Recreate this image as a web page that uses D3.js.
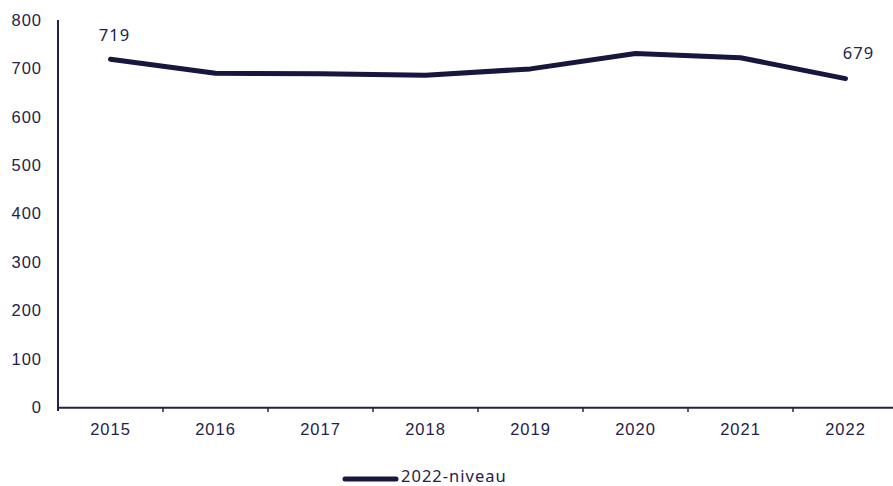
<!DOCTYPE html>
<html><head><meta charset="utf-8">
<script src="https://cdn.jsdelivr.net/npm/d3@7"></script>
<style>body{margin:0;background:#fff;} svg{display:block;font-family:"Noto Sans", sans-serif;}</style>
</head><body>
<svg id="c" width="893" height="486"></svg>
<script>
const years = ["2015","2016","2017","2018","2019","2020","2021","2022"];
const values = [719, 690, 689, 686, 699, 731, 722, 679];
const yTicks = [0,100,200,300,400,500,600,700,800];
const seriesName = "2022-niveau";
const labeled = {"2015": 719, "2022": 679};

const ink = "#23224a", lineCol = "#16163f";
const fs = "16.5px", ls = "1px";
const svg = d3.select("#c");
const x = d3.scaleBand().domain(years).range([58, 898]);
const y = d3.scaleLinear().domain([0, 800]).range([407.3, 20]);

// y axis
const ya = svg.append("g").attr("transform","translate(58,0)")
  .call(d3.axisLeft(y).tickValues(yTicks).tickSize(0).tickPadding(16));
ya.select(".domain").attr("stroke", ink).attr("stroke-width", 2).attr("d","M0,20V411");
ya.selectAll("text").attr("fill", ink).style("font-size",fs).style("letter-spacing",ls);

// x axis
const xa = svg.append("g").attr("transform","translate(0,407.3)")
  .call(d3.axisBottom(x).tickSize(0).tickPadding(16));
xa.select(".domain").attr("stroke", ink).attr("stroke-width", 2);
xa.selectAll("text").attr("fill", ink).style("font-size",fs).style("letter-spacing",ls);
// boundary ticks
svg.append("g").selectAll("line").data(years.slice(1))
  .join("line").attr("x1", d => x(d)).attr("x2", d => x(d))
  .attr("y1", 407).attr("y2", 412).attr("stroke", ink).attr("stroke-width", 1.5);

const line = d3.line().x((d,i) => x(years[i]) + x.bandwidth()/2).y(d => y(d));
svg.append("path").datum(values).attr("d", line).attr("fill","none")
  .attr("stroke", lineCol).attr("stroke-width", 5).attr("stroke-linecap","round").attr("stroke-linejoin","round");

// data labels
svg.append("text").attr("x", x("2015") + x.bandwidth()/2 + 4).attr("y", y(labeled["2015"]) - 18)
  .attr("text-anchor","middle").attr("fill", ink).style("font-size",fs).style("letter-spacing",ls).text(labeled["2015"]);
svg.append("text").attr("x", x("2022") + x.bandwidth()/2 + 13).attr("y", y(labeled["2022"]) - 20)
  .attr("text-anchor","middle").attr("fill", ink).style("font-size",fs).style("letter-spacing",ls).text(labeled["2022"]);

// legend
svg.append("line").attr("x1", 345).attr("x2", 396).attr("y1", 479).attr("y2", 479)
  .attr("stroke", lineCol).attr("stroke-width", 5).attr("stroke-linecap","round");
svg.append("text").attr("x", 401).attr("y", 482).attr("fill", ink).style("font-size",fs).style("letter-spacing",ls).text(seriesName);
</script>
</body></html>
